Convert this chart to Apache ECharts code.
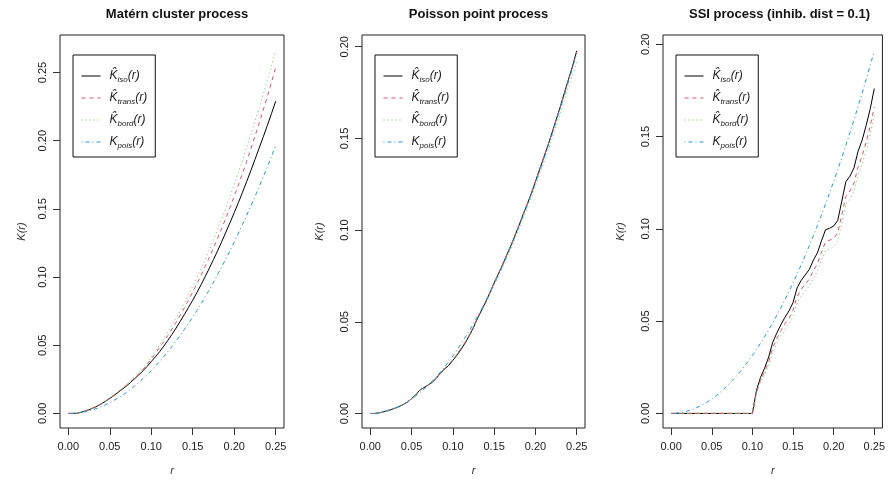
<!DOCTYPE html>
<html>
<head>
<meta charset="utf-8">
<script src="https://cdn.jsdelivr.net/npm/echarts@6/dist/echarts.min.js"></script>
<style>
  html, body { margin: 0; padding: 0; background: #fff; }
  #chart { width: 888px; height: 481px; }
</style>
</head>
<body>
<div id="chart"></div>
<script>
// Distance grid r shared by all three estimates
const rValues = [0, 0.005, 0.01, 0.015, 0.02, 0.025, 0.03, 0.035, 0.04, 0.045, 0.05,
  0.055, 0.06, 0.065, 0.07, 0.075, 0.08, 0.085, 0.09, 0.095, 0.1,
  0.105, 0.11, 0.115, 0.12, 0.125, 0.13, 0.135, 0.14, 0.145, 0.15,
  0.155, 0.16, 0.165, 0.17, 0.175, 0.18, 0.185, 0.19, 0.195, 0.2,
  0.205, 0.21, 0.215, 0.22, 0.225, 0.23, 0.235, 0.24, 0.245, 0.25];

// Theoretical Poisson K function (same in every panel)
const kPois = [0, 0.00008, 0.00031, 0.00071, 0.00126, 0.00196, 0.00283, 0.00385, 0.00503, 0.00636, 0.00785,
  0.0095, 0.01131, 0.01327, 0.01539, 0.01767, 0.02011, 0.0227, 0.02545, 0.02835, 0.03142,
  0.03464, 0.03801, 0.04155, 0.04524, 0.04909, 0.05309, 0.05726, 0.06158, 0.06605, 0.07069,
  0.07548, 0.08042, 0.08553, 0.09079, 0.09621, 0.10179, 0.10752, 0.11341, 0.11946, 0.12566,
  0.13203, 0.13854, 0.14522, 0.15205, 0.15904, 0.16619, 0.17349, 0.18096, 0.18857, 0.19635];

// Matérn cluster process estimates
const maternIso = [0, 0, 0, 0.0008, 0.0016, 0.0027, 0.0040, 0.0054, 0.0071, 0.0089, 0.0110,
  0.0131, 0.0154, 0.0177, 0.0201, 0.0227, 0.0254, 0.0283, 0.0312, 0.0345, 0.0380,
  0.0415, 0.0452, 0.0492, 0.0536, 0.0580, 0.0626, 0.0676, 0.0726, 0.0778, 0.0830,
  0.0886, 0.0943, 0.1003, 0.1065, 0.1128, 0.1193, 0.1260, 0.1330, 0.1400, 0.1472,
  0.1545, 0.1622, 0.1700, 0.1780, 0.1862, 0.1945, 0.2028, 0.2113, 0.2200, 0.2290];
const maternTrans = [0, 0, 0, 0.0008, 0.0017, 0.0028, 0.0041, 0.0055, 0.0072, 0.0091, 0.0112,
  0.0134, 0.0157, 0.0181, 0.0206, 0.0232, 0.0260, 0.0290, 0.0322, 0.0359, 0.0399,
  0.0440, 0.0482, 0.0525, 0.0571, 0.0619, 0.0669, 0.0721, 0.0776, 0.0832, 0.0891,
  0.0951, 0.1013, 0.1078, 0.1144, 0.1213, 0.1285, 0.1358, 0.1433, 0.1512, 0.1592,
  0.1675, 0.1760, 0.1848, 0.1940, 0.2033, 0.2128, 0.2225, 0.2326, 0.2430, 0.2537];
const maternBord = [0, 0, 0, 0.0008, 0.0017, 0.0028, 0.0041, 0.0056, 0.0073, 0.0092, 0.0114,
  0.0136, 0.0160, 0.0185, 0.0211, 0.0239, 0.0268, 0.0300, 0.0334, 0.0372, 0.0414,
  0.0457, 0.0502, 0.0549, 0.0597, 0.0648, 0.0700, 0.0755, 0.0812, 0.0871, 0.0933,
  0.0996, 0.1062, 0.1130, 0.1200, 0.1274, 0.1350, 0.1428, 0.1508, 0.1592, 0.1678,
  0.1766, 0.1857, 0.1950, 0.2045, 0.2142, 0.2240, 0.2340, 0.2445, 0.2552, 0.2662];

// Poisson point process estimates
const poissonIso = [0, 0, 0.0003, 0.0008, 0.0015, 0.0021, 0.0029, 0.0038, 0.0049, 0.0062, 0.0081,
  0.0102, 0.0128, 0.0141, 0.0155, 0.0170, 0.0192, 0.0220, 0.0243, 0.0262, 0.0290,
  0.0318, 0.0350, 0.0385, 0.0425, 0.0470, 0.0520, 0.0565, 0.0610, 0.0660, 0.0712,
  0.0760, 0.0808, 0.0862, 0.0912, 0.0968, 0.1025, 0.1085, 0.1140, 0.1200, 0.1265,
  0.1330, 0.1395, 0.1460, 0.1530, 0.1600, 0.1672, 0.1748, 0.1822, 0.1895, 0.1978];
const poissonTrans = [0, 0, 0.0003, 0.0008, 0.0015, 0.0021, 0.0029, 0.0038, 0.0049, 0.0062, 0.0081,
  0.0102, 0.0127, 0.0141, 0.0156, 0.0171, 0.0194, 0.0222, 0.0246, 0.0266, 0.0295,
  0.0323, 0.0356, 0.0390, 0.0430, 0.0475, 0.0524, 0.0568, 0.0614, 0.0663, 0.0714,
  0.0762, 0.0811, 0.0864, 0.0915, 0.0970, 0.1027, 0.1086, 0.1142, 0.1202, 0.1266,
  0.1331, 0.1396, 0.1461, 0.1530, 0.1598, 0.1670, 0.1744, 0.1818, 0.1890, 0.1972];
const poissonBord = [0, 0, 0.0003, 0.0008, 0.0015, 0.0021, 0.0029, 0.0038, 0.0050, 0.0063, 0.0082,
  0.0103, 0.0126, 0.0140, 0.0156, 0.0172, 0.0196, 0.0224, 0.0248, 0.0268, 0.0296,
  0.0324, 0.0356, 0.0390, 0.0428, 0.0470, 0.0515, 0.0558, 0.0602, 0.0650, 0.0700,
  0.0746, 0.0793, 0.0845, 0.0895, 0.0950, 0.1005, 0.1062, 0.1118, 0.1176, 0.1240,
  0.1303, 0.1366, 0.1430, 0.1497, 0.1565, 0.1635, 0.1706, 0.1778, 0.1846, 0.1915];

// SSI process (inhibition distance 0.1) estimates
const ssiIso = [0, 0, 0, 0, 0, 0, 0, 0, 0, 0, 0,
  0, 0, 0, 0, 0, 0, 0, 0, 0, 0,
  0.0125, 0.0195, 0.0245, 0.0305, 0.0385, 0.0435, 0.0480, 0.0520, 0.0555, 0.0600,
  0.0680, 0.0720, 0.0750, 0.0780, 0.0830, 0.0870, 0.0935, 0.0995, 0.1003, 0.1015,
  0.1045, 0.1150, 0.1255, 0.1285, 0.1330, 0.1420, 0.1480, 0.1560, 0.1650, 0.1760];
const ssiTrans = [0, 0, 0, 0, 0, 0, 0, 0, 0, 0, 0,
  0, 0, 0, 0, 0, 0, 0, 0, 0, 0,
  0.0115, 0.0180, 0.0225, 0.0280, 0.0355, 0.0405, 0.0448, 0.0485, 0.0515, 0.0558,
  0.0632, 0.0672, 0.0700, 0.0728, 0.0772, 0.0812, 0.0872, 0.0930, 0.0938, 0.0948,
  0.0978, 0.1075, 0.1175, 0.1205, 0.1248, 0.1335, 0.1395, 0.1470, 0.1558, 0.1660];
const ssiBord = [0, 0, 0, 0, 0, 0, 0, 0, 0, 0, 0,
  0, 0, 0, 0, 0, 0, 0, 0, 0, 0,
  0.0110, 0.0172, 0.0210, 0.0260, 0.0330, 0.0380, 0.0420, 0.0455, 0.0485, 0.0525,
  0.0598, 0.0635, 0.0662, 0.0690, 0.0732, 0.0770, 0.0828, 0.0882, 0.0892, 0.0903,
  0.0935, 0.1030, 0.1130, 0.1160, 0.1205, 0.1290, 0.1350, 0.1425, 0.1512, 0.1615];

const panelTitles = ['Matérn cluster process', 'Poisson point process', 'SSI process (inhib. dist = 0.1)'];
const xTicks = [0, 0.05, 0.1, 0.15, 0.2, 0.25];
const yTicksMatern = [0, 0.05, 0.1, 0.15, 0.2, 0.25];
const yTicksOther = [0, 0.05, 0.1, 0.15, 0.2];

const FONT = '"Liberation Sans", Arial, Helvetica, sans-serif';
const TEXT = '#1a1a1a';

// estimator styles: solid, dashed, dotted, dot-dash
const estimators = [
  { name: 'iso',   color: '#000000', dash: 'solid' },
  { name: 'trans', color: '#DF536B', dash: [4, 4] },
  { name: 'bord',  color: '#61D04F', dash: [1, 3] },
  { name: 'pois',  color: '#2297E6', dash: [1, 3, 4, 3] }
];

const panels = [
  { grid: { left: 60,  top: 35, width: 224, height: 393 }, yMin: -0.0107, yMax: 0.2775, yTicks: yTicksMatern,
    values: [maternIso, maternTrans, maternBord, kPois], nameGap: 33 },
  { grid: { left: 362, top: 35, width: 223, height: 393 }, yMin: -0.0079, yMax: 0.2064, yTicks: yTicksOther,
    values: [poissonIso, poissonTrans, poissonBord, kPois], nameGap: 37 },
  { grid: { left: 663, top: 35, width: 223, height: 393 }, yMin: -0.0079, yMax: 0.2050, yTicks: yTicksOther,
    values: [ssiIso, ssiTrans, ssiBord, kPois], nameGap: 37 }
];

const fmt2 = v => v.toFixed(2);

const option = {
  animation: false,
  backgroundColor: '#ffffff',
  textStyle: { fontFamily: FONT },
  title: panels.map((p, i) => ({
    text: panelTitles[i],
    left: p.grid.left + p.grid.width / 2,
    top: 3,
    textAlign: 'center',
    textStyle: { fontFamily: FONT, fontSize: 13, fontWeight: 'bold', color: '#111' }
  })),
  grid: panels.map(p => Object.assign({
    show: true, borderColor: '#222', borderWidth: 1, backgroundColor: 'transparent', containLabel: false
  }, p.grid)),
  xAxis: panels.map((p, i) => ({
    type: 'value', gridIndex: i, min: -0.01, max: 0.26,
    name: 'r', nameLocation: 'middle', nameGap: 37,
    nameTextStyle: { fontFamily: FONT, fontSize: 11, fontStyle: 'italic', color: '#333' },
    axisLine: { show: false, onZero: false },
    axisTick: { show: true, length: 7, customValues: xTicks, lineStyle: { color: '#333', width: 1 } },
    axisLabel: { customValues: xTicks, formatter: fmt2, margin: 13, fontFamily: FONT, fontSize: 11, color: TEXT },
    splitLine: { show: false }
  })),
  yAxis: panels.map((p, i) => ({
    type: 'value', gridIndex: i, min: p.yMin, max: p.yMax,
    name: 'K(r)', nameLocation: 'middle', nameGap: p.nameGap,
    nameTextStyle: { fontFamily: FONT, fontSize: 11, fontStyle: 'italic', color: '#333' },
    axisLine: { show: false, onZero: false },
    axisTick: { show: true, length: 7, customValues: p.yTicks, lineStyle: { color: '#333', width: 1 } },
    axisLabel: { customValues: p.yTicks, formatter: fmt2, rotate: 90, margin: 12, fontFamily: FONT, fontSize: 11, color: TEXT },
    splitLine: { show: false }
  })),
  legend: panels.map(p => ({
    data: estimators.map(e => e.name),
    orient: 'vertical',
    left: p.grid.left + 13, top: 55,
    padding: [13, 8, 7, 8],
    itemGap: 6, itemWidth: 19, itemHeight: 12,
    borderColor: '#111', borderWidth: 1, borderRadius: 0,
    selectedMode: false,
    itemStyle: { opacity: 0 },
    lineStyle: { width: 1 },
    formatter: name => name === 'pois'
      ? '{k|K}{s|pois}{p|(r)}'
      : '{k|K\u0302}{s|' + name + '}{p|(r)}',
    textStyle: {
      fontFamily: FONT, fontSize: 12, color: TEXT, fontStyle: 'italic', lineHeight: 16,
      rich: {
        k: { fontFamily: FONT, fontSize: 12, fontStyle: 'italic', color: TEXT, lineHeight: 16, padding: [0, 0, 0, 4] },
        s: { fontFamily: FONT, fontSize: 8, fontStyle: 'italic', color: TEXT, lineHeight: 9, verticalAlign: 'bottom' },
        p: { fontFamily: FONT, fontSize: 12, fontStyle: 'italic', color: TEXT, lineHeight: 16 }
      }
    }
  })),
  series: []
};

panels.forEach((p, pi) => {
  estimators.forEach((e, ei) => {
    option.series.push({
      type: 'line', name: e.name, xAxisIndex: pi, yAxisIndex: pi,
      showSymbol: false, symbol: 'none', silent: true,
      color: e.color,
      lineStyle: { color: e.color, width: 1, type: e.dash },
      data: rValues.map((r, k) => [r, p.values[ei][k]]),
      z: 2 + ei
    });
  });
});

const chart = echarts.init(document.getElementById('chart'), null, { renderer: 'canvas' });
chart.setOption(option);
</script>
</body>
</html>
